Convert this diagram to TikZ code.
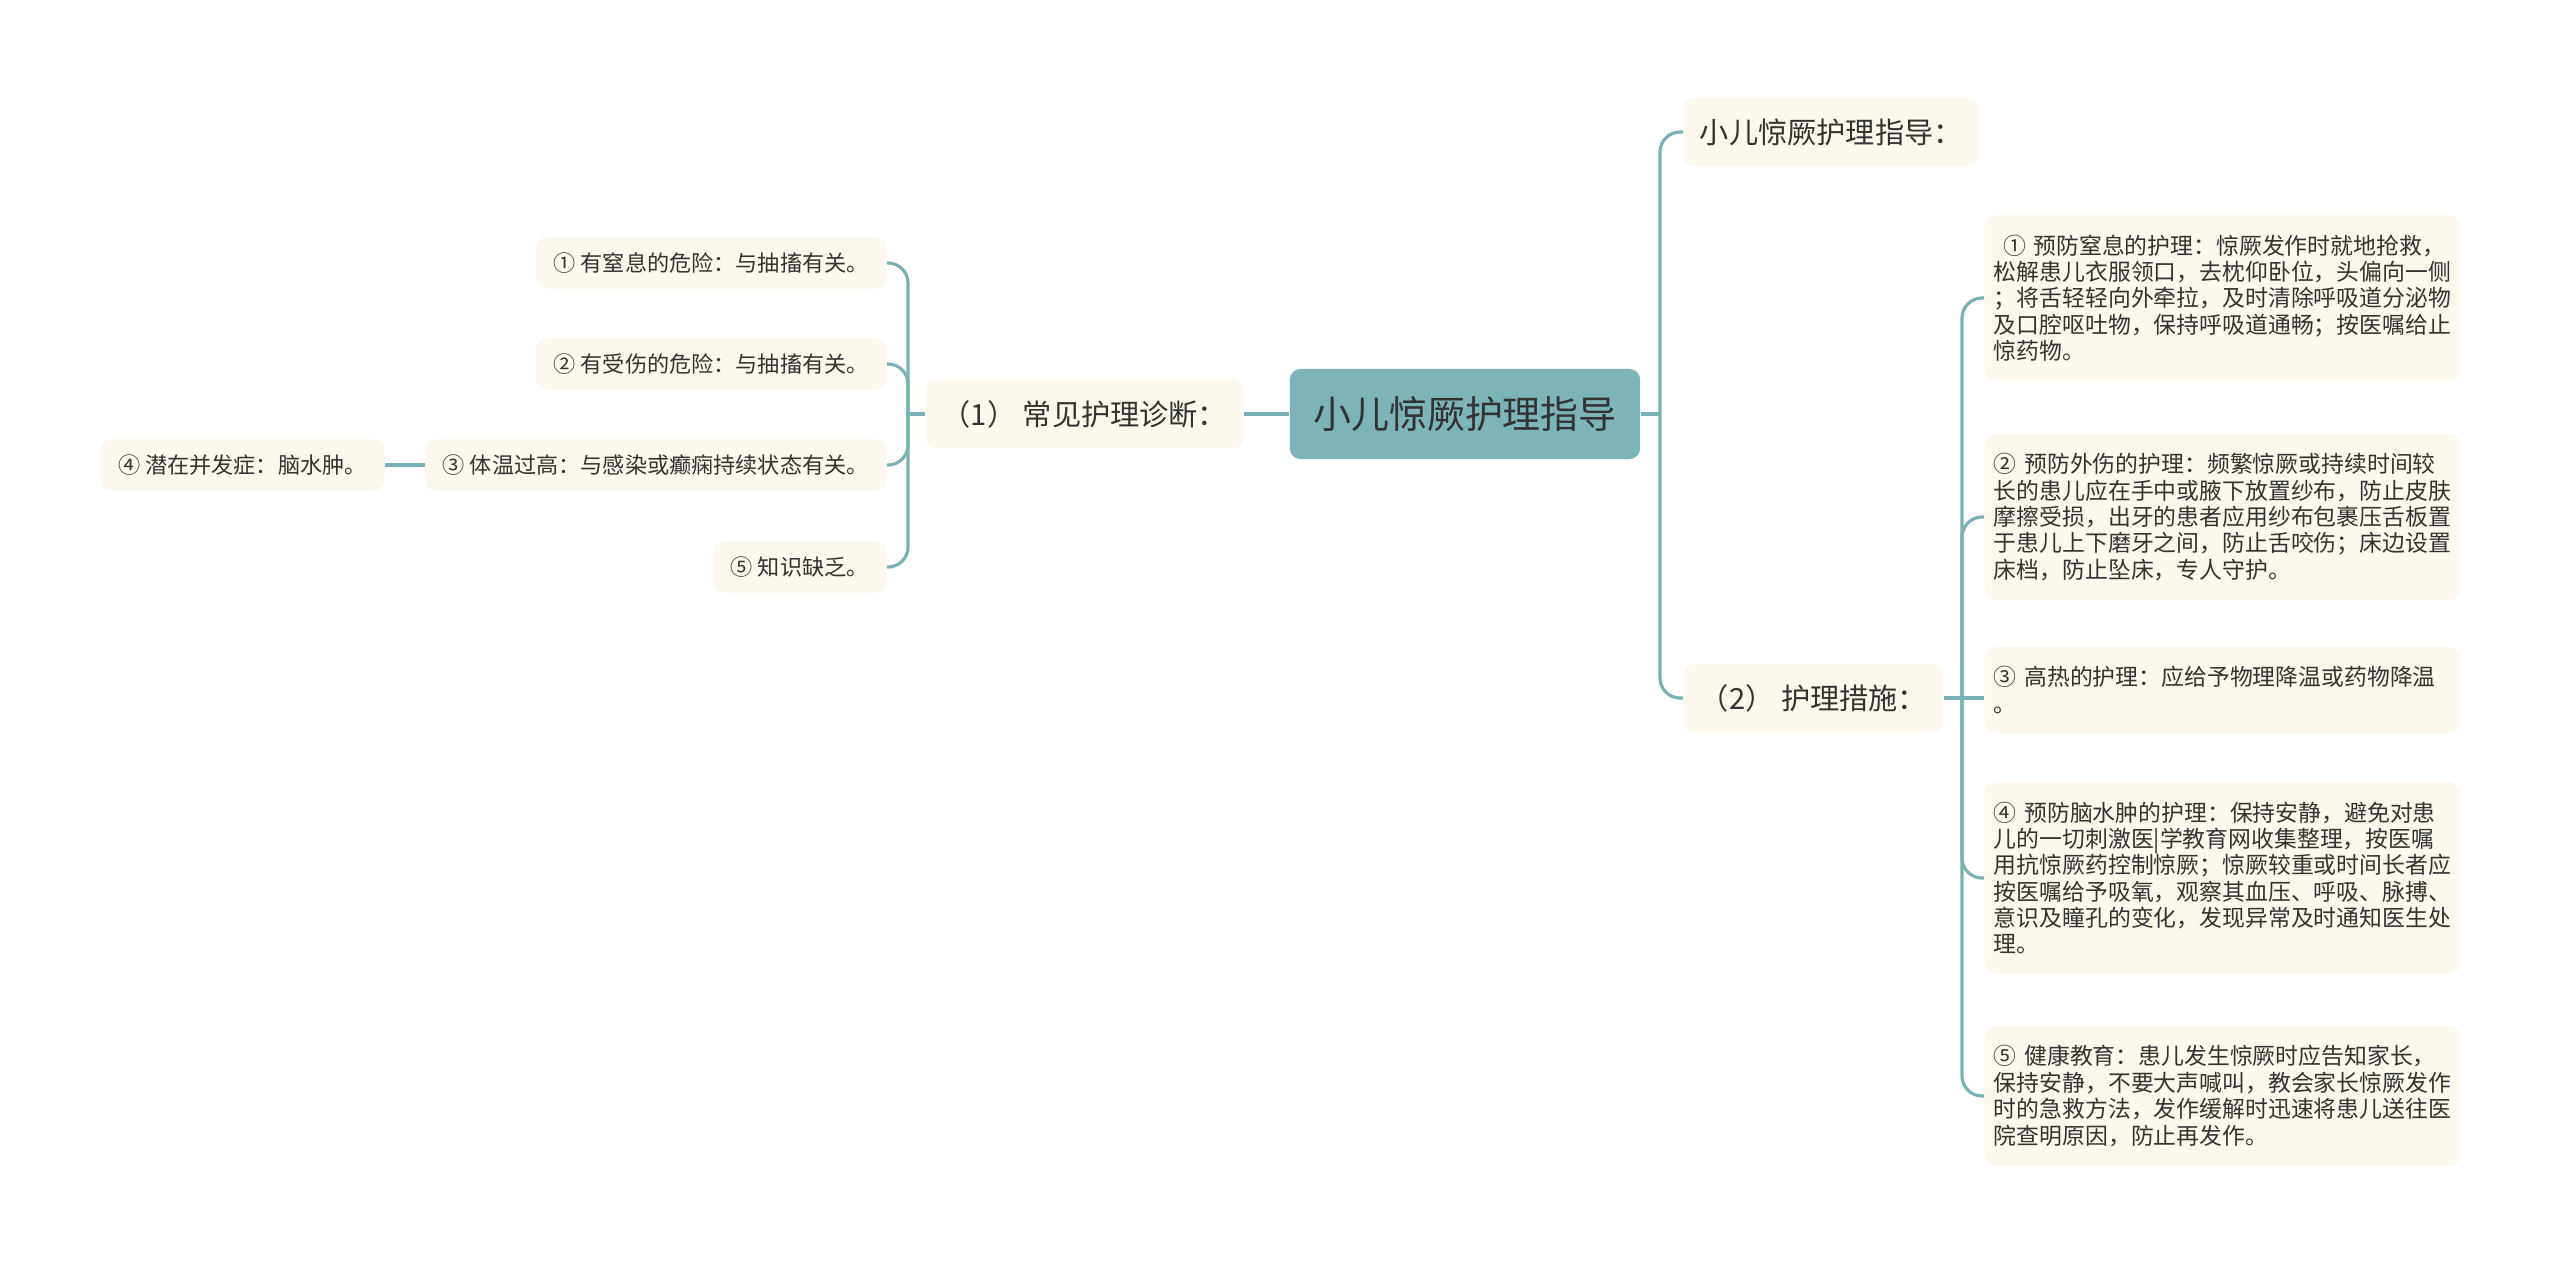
\documentclass[tikz,border=0pt]{standalone}
\usepackage{fontspec}
\setmainfont{Noto Sans CJK SC}
\usetikzlibrary{positioning}

\definecolor{linkteal}{HTML}{7AB1B4}
\definecolor{rootteal}{HTML}{7DB4B7}
\definecolor{leafcream}{HTML}{FCF8EE}
\definecolor{inkgrey}{HTML}{333333}

\begin{document}
\begin{tikzpicture}[x = 0.01cm, y = -0.01cm,
	link/.style = {linkteal, line width = 0.9pt},
	elbow/.style = {link, rounded corners = 0.2cm},
	rootbox/.style = {fill = rootteal, rounded corners = 3pt, minimum width = 3.5cm, minimum height = 0.9cm, text = inkgrey, font = \fontsize{10.8pt}{13pt}\selectfont},
	midbox/.style = {fill = leafcream, rounded corners = 3pt, minimum height = 0.68cm, inner xsep = 4.6pt, text = inkgrey, font = \fontsize{8.3pt}{10pt}\selectfont},
	leafbox/.style = {fill = leafcream, rounded corners = 3pt, minimum height = 0.51cm, inner xsep = 5pt, text = inkgrey, font = \fontsize{6.3pt}{7.5pt}\selectfont},
	notebox/.style = {fill = leafcream, rounded corners = 3pt, align = left, text width = 130pt, inner xsep = 2.6pt, inner ysep = 5.5pt, text = inkgrey, font = \fontsize{6.5pt}{7.5pt}\selectfont}]
	\fill [white] (0, 0) rectangle (2560, 1263);
	\useasboundingbox (0, 0) rectangle (2560, 1263);

	\node (root) at (1465, 414) [rootbox] {小儿惊厥护理指导};
	\node (diag) at (1244, 414) [midbox, anchor = east] {（1） 常见护理诊断：};
	\node (guide) at (1683, 132) [midbox, anchor = west] {小儿惊厥护理指导：};
	\node (care) at (1683, 698) [midbox, anchor = west] {（2） 护理措施：};

	\node (choke) at (887, 263) [leafbox, anchor = east] {① 有窒息的危险：与抽搐有关。};
	\node (injury) at (887, 364) [leafbox, anchor = east] {② 有受伤的危险：与抽搐有关。};
	\node (fever) at (887, 465) [leafbox, anchor = east] {③ 体温过高：与感染或癫痫持续状态有关。};
	\node (edema) at (385, 465) [leafbox, anchor = east] {④ 潜在并发症：脑水肿。};
	\node (lack) at (887, 567) [leafbox, anchor = east] {⑤ 知识缺乏。};

	\node (airway) at (1984, 298) [notebox, anchor = west] {\hspace*{0.4em}① 预防窒息的护理：惊厥发作时就地抢救，\\松解患儿衣服领口，去枕仰卧位，头偏向一侧\\；将舌轻轻向外牵拉，及时清除呼吸道分泌物\\及口腔呕吐物，保持呼吸道通畅；按医嘱给止\\惊药物。};
	\node (trauma) at (1984, 517) [notebox, anchor = west] {② 预防外伤的护理：频繁惊厥或持续时间较\\长的患儿应在手中或腋下放置纱布，防止皮肤\\摩擦受损，出牙的患者应用纱布包裹压舌板置\\于患儿上下磨牙之间，防止舌咬伤；床边设置\\床档，防止坠床，专人守护。};
	\node (cool) at (1984, 690) [notebox, anchor = west] {③ 高热的护理：应给予物理降温或药物降温\\。};
	\node (brain) at (1984, 878) [notebox, anchor = west] {④ 预防脑水肿的护理：保持安静，避免对患\\儿的一切刺激医|学教育网收集整理，按医嘱\\用抗惊厥药控制惊厥；惊厥较重或时间长者应\\按医嘱给予吸氧，观察其血压、呼吸、脉搏、\\意识及瞳孔的变化，发现异常及时通知医生处\\理。};
	\node (teach) at (1984, 1096) [notebox, anchor = west] {⑤ 健康教育：患儿发生惊厥时应告知家长，\\保持安静，不要大声喊叫，教会家长惊厥发作\\时的急救方法，发作缓解时迅速将患儿送往医\\院查明原因，防止再发作。};

	\coordinate (jroot) at (1660, 414);
	\coordinate (jdiag) at (908, 414);
	\coordinate (jcare) at (1962, 698);

	\draw [link] (root.west) -- (diag.east);
	\draw [link] (root.east) -- (jroot);
	\draw [elbow] (jroot) |- (guide.west);
	\draw [elbow] (jroot) |- (care.west);
	\draw [link] (diag.west) -- (jdiag);
	\foreach \leaf in {choke, injury, fever, lack}
		\draw [elbow] (jdiag) |- (\leaf.east);
	\draw [link] (fever.west) -- (edema.east);
	\draw [link] (care.east) -- (jcare);
	\draw [link] (jcare) -- (jcare -| cool.west);
	\foreach \note in {airway, trauma, brain, teach}
		\draw [elbow] (jcare) |- (\note.west);
\end{tikzpicture}
\end{document}
